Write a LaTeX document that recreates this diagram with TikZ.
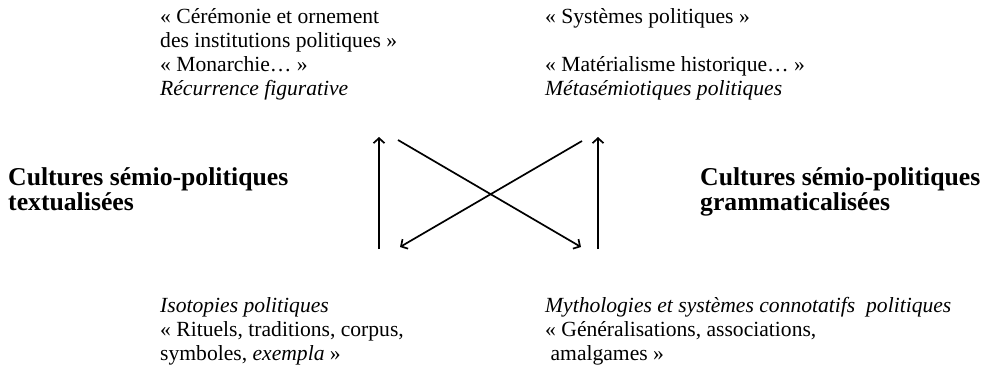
\documentclass[tikz,border=0pt]{standalone}
\usepackage{fontspec}
\setmainfont{Liberation Serif}
\usetikzlibrary{arrows.meta}
\tikzset{
  txt/.style={anchor=base west, inner sep=0pt, font=\fontsize{21.6}{24}\selectfont},
  bold/.style={anchor=base west, inner sep=0pt, font=\fontsize{25.7}{25}\selectfont\bfseries},
  conn/.style={line width=1.7pt, -{Straight Barb[length=5pt,width=11pt,line width=1.7pt]}}
}
\newcommand{\blk}[1]{\begin{tabular}[t]{@{}l@{}}#1\end{tabular}}
\begin{document}
\begin{tikzpicture}[x=1pt,y=-1pt]
\useasboundingbox (0,0) rectangle (996,370);
% top blocks
\node[txt] (tl) at (160,23) {\blk{« Cérémonie et ornement\\des institutions politiques »\\« Monarchie… »\\\textit{Récurrence figurative}}};
\node[txt] (tr) at (545,23) {\blk{« Systèmes politiques »\\ \\« Matérialisme historique… »\\\textit{Métasémiotiques politiques}}};
% bottom blocks
\node[txt] (bl) at (160,312) {\blk{\textit{Isotopies politiques}\\« Rituels, traditions, corpus,\\symboles, \textit{exempla} »}};
\node[txt] (br) at (545,312) {\blk{\textit{Mythologies et systèmes connotatifs\ \ politiques}\\« Généralisations, associations,\\\ amalgames »}};
% side titles
\node[bold] (lt) at (8,185) {\blk{Cultures sémio-politiques\\textualisées}};
\node[bold] (rt) at (700,185) {\blk{Cultures sémio-politiques\\grammaticalisées}};
% arrow coordinates
\coordinate (a1s) at (379,249);
\coordinate (a1e) at (379,137);
\coordinate (a2s) at (598,249);
\coordinate (a2e) at (598,137);
\coordinate (d1s) at (398,140);
\coordinate (d1e) at (581,247);
\coordinate (d2s) at (582,141);
\coordinate (d2e) at (400,247);
\draw[conn] (a1s) -- (a1e);
\draw[conn] (a2s) -- (a2e);
\draw[conn] (d1s) -- (d1e);
\draw[conn] (d2s) -- (d2e);
\end{tikzpicture}
\end{document}
